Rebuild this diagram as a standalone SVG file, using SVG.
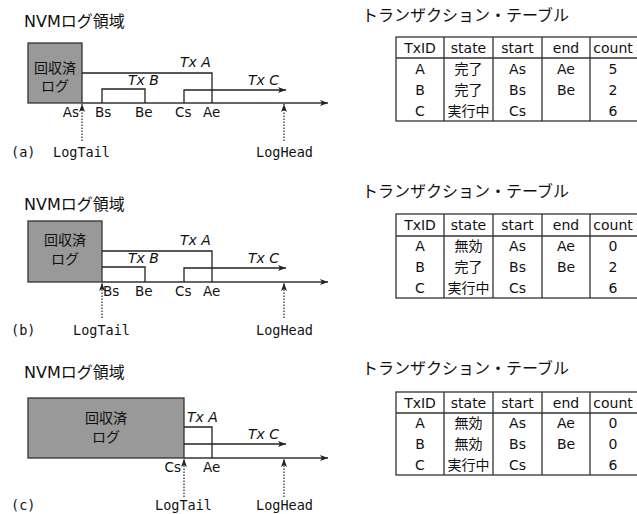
<svg xmlns="http://www.w3.org/2000/svg" width="637" height="514" viewBox="0 0 637 514">
<defs>
<marker id="arr" markerUnits="userSpaceOnUse" markerWidth="8" markerHeight="6" refX="8" refY="3" orient="auto">
<path d="M0,0 L8,3 L0,6 L2,3 Z" fill="#222"/>
</marker>
<style>
.t{font-family:"DejaVu Sans","Noto Sans CJK JP",sans-serif;fill:#111}
.ttl{font-size:16px}
.box{font-size:14px;text-anchor:middle}
.tx{font-size:14px;font-style:italic}
.lb{font-size:13.5px}
.mono{font-family:"DejaVu Sans Mono",monospace;font-size:13.5px;fill:#111}
.tb{font-size:14px;text-anchor:middle}
.gray{fill:#999;stroke:#333;stroke-width:1.3}
.ln{fill:none;stroke:#222;stroke-width:1.3}
.ax{fill:none;stroke:#333;stroke-width:1.6}
.dot{fill:none;stroke:#222;stroke-width:1.2;stroke-dasharray:1.5 1.5}
.grid{fill:none;stroke:#333;stroke-width:1.3}
</style>
</defs>

<!-- Panel (a) -->
<text class="t ttl" x="24" y="27">NVMログ領域</text>
<g id="a-reclaimed">
<rect class="gray" x="28" y="43" width="54" height="60"/>
<text class="t box" x="55" y="73">回収済</text>
<text class="t box" x="55" y="91">ログ</text>
</g>
<g id="a-connectors">
<line class="ax" x1="82" y1="103" x2="328" y2="103" marker-end="url(#arr)"/>
<polyline class="ln" points="82,73 212,73 212,103"/>
<polyline class="ln" points="102,103 102,89 145,89 145,103"/>
<polyline class="ln" points="184,103 184,90 286,90" marker-end="url(#arr)"/>
<line class="dot" x1="82" y1="141" x2="82" y2="104" marker-end="url(#arr)"/>
<line class="dot" x1="284" y1="141" x2="284" y2="104" marker-end="url(#arr)"/>
</g>
<g id="a-labels">
<text class="t tx" x="180" y="67">Tx A</text>
<text class="t tx" x="128" y="85">Tx B</text>
<text class="t tx" x="248" y="85">Tx C</text>
<text class="t lb" x="79" y="117" text-anchor="end">As</text>
<text class="t lb" x="95" y="117">Bs</text>
<text class="t lb" x="135" y="117">Be</text>
<text class="t lb" x="175" y="117">Cs</text>
<text class="t lb" x="203" y="117">Ae</text>
<text class="mono" x="11" y="157">(a)</text>
<text class="mono" x="53" y="157">LogTail</text>
<text class="mono" x="256" y="157">LogHead</text>
</g>

<!-- Panel (b) -->
<text class="t ttl" x="24" y="210">NVMログ領域</text>
<g id="b-reclaimed">
<rect class="gray" x="28" y="221" width="74" height="61"/>
<text class="t box" x="65" y="245">回収済</text>
<text class="t box" x="65" y="264">ログ</text>
</g>
<g id="b-connectors">
<line class="ax" x1="102" y1="282" x2="328" y2="282" marker-end="url(#arr)"/>
<polyline class="ln" points="102,251 212,251 212,282"/>
<polyline class="ln" points="102,267 145,267 145,282"/>
<polyline class="ln" points="184,282 184,268 286,268" marker-end="url(#arr)"/>
<line class="dot" x1="102" y1="318" x2="102" y2="283" marker-end="url(#arr)"/>
<line class="dot" x1="284" y1="318" x2="284" y2="283" marker-end="url(#arr)"/>
</g>
<g id="b-labels">
<text class="t tx" x="180" y="245">Tx A</text>
<text class="t tx" x="128" y="263">Tx B</text>
<text class="t tx" x="248" y="263">Tx C</text>
<text class="t lb" x="103" y="296">Bs</text>
<text class="t lb" x="135" y="296">Be</text>
<text class="t lb" x="175" y="296">Cs</text>
<text class="t lb" x="203" y="296">Ae</text>
<text class="mono" x="11" y="335">(b)</text>
<text class="mono" x="73" y="335">LogTail</text>
<text class="mono" x="256" y="335">LogHead</text>
</g>

<!-- Panel (c) -->
<text class="t ttl" x="24" y="378">NVMログ領域</text>
<g id="c-reclaimed">
<rect class="gray" x="28" y="398" width="156" height="60"/>
<text class="t box" x="106" y="423">回収済</text>
<text class="t box" x="106" y="442">ログ</text>
</g>
<g id="c-connectors">
<line class="ax" x1="184" y1="458" x2="328" y2="458" marker-end="url(#arr)"/>
<polyline class="ln" points="184,427 212,427 212,458"/>
<polyline class="ln" points="184,444 286,444" marker-end="url(#arr)"/>
<line class="dot" x1="184" y1="497" x2="184" y2="459" marker-end="url(#arr)"/>
<line class="dot" x1="284" y1="497" x2="284" y2="459" marker-end="url(#arr)"/>
</g>
<g id="c-labels">
<text class="t tx" x="187" y="422">Tx A</text>
<text class="t tx" x="248" y="439">Tx C</text>
<text class="t lb" x="181" y="472" text-anchor="end">Cs</text>
<text class="t lb" x="203" y="472">Ae</text>
<text class="mono" x="11" y="510">(c)</text>
<text class="mono" x="155" y="510">LogTail</text>
<text class="mono" x="256" y="510">LogHead</text>
</g>

<!-- Table (a) -->
<text class="t ttl" x="362" y="21">トランザクション・テーブル</text>
<g id="table-a">
<rect class="grid" x="396" y="37" width="243" height="84"/>
<line class="grid" x1="396" y1="58" x2="639" y2="58"/>
<path class="grid" d="M444,37V121M493,37V121M542,37V121M590,37V121"/>
<g class="t tb">
<text x="420" y="53">TxID</text><text x="468.5" y="53">state</text><text x="517.5" y="53">start</text><text x="566" y="53">end</text><text x="613" y="53">count</text>
<text x="420" y="74">A</text><text x="468.5" y="74">完了</text><text x="517.5" y="74">As</text><text x="566" y="74">Ae</text><text x="613" y="74">5</text>
<text x="420" y="95">B</text><text x="468.5" y="95">完了</text><text x="517.5" y="95">Bs</text><text x="566" y="95">Be</text><text x="613" y="95">2</text>
<text x="420" y="116">C</text><text x="468.5" y="116">実行中</text><text x="517.5" y="116">Cs</text><text x="613" y="116">6</text>
</g>
</g>

<!-- Table (b) -->
<text class="t ttl" x="362" y="197">トランザクション・テーブル</text>
<g id="table-b">
<rect class="grid" x="396" y="214" width="243" height="84"/>
<line class="grid" x1="396" y1="236" x2="639" y2="236"/>
<path class="grid" d="M444,214V298M493,214V298M542,214V298M590,214V298"/>
<g class="t tb">
<text x="420" y="230">TxID</text><text x="468.5" y="230">state</text><text x="517.5" y="230">start</text><text x="566" y="230">end</text><text x="613" y="230">count</text>
<text x="420" y="251">A</text><text x="468.5" y="251">無効</text><text x="517.5" y="251">As</text><text x="566" y="251">Ae</text><text x="613" y="251">0</text>
<text x="420" y="272">B</text><text x="468.5" y="272">完了</text><text x="517.5" y="272">Bs</text><text x="566" y="272">Be</text><text x="613" y="272">2</text>
<text x="420" y="293">C</text><text x="468.5" y="293">実行中</text><text x="517.5" y="293">Cs</text><text x="613" y="293">6</text>
</g>
</g>

<!-- Table (c) -->
<text class="t ttl" x="362" y="374">トランザクション・テーブル</text>
<g id="table-c">
<rect class="grid" x="396" y="392" width="243" height="83"/>
<line class="grid" x1="396" y1="413" x2="639" y2="413"/>
<path class="grid" d="M444,392V475M493,392V475M542,392V475M590,392V475"/>
<g class="t tb">
<text x="420" y="408">TxID</text><text x="468.5" y="408">state</text><text x="517.5" y="408">start</text><text x="566" y="408">end</text><text x="613" y="408">count</text>
<text x="420" y="428">A</text><text x="468.5" y="428">無効</text><text x="517.5" y="428">As</text><text x="566" y="428">Ae</text><text x="613" y="428">0</text>
<text x="420" y="449">B</text><text x="468.5" y="449">無効</text><text x="517.5" y="449">Bs</text><text x="566" y="449">Be</text><text x="613" y="449">0</text>
<text x="420" y="470">C</text><text x="468.5" y="470">実行中</text><text x="517.5" y="470">Cs</text><text x="613" y="470">6</text>
</g>
</g>
</svg>
